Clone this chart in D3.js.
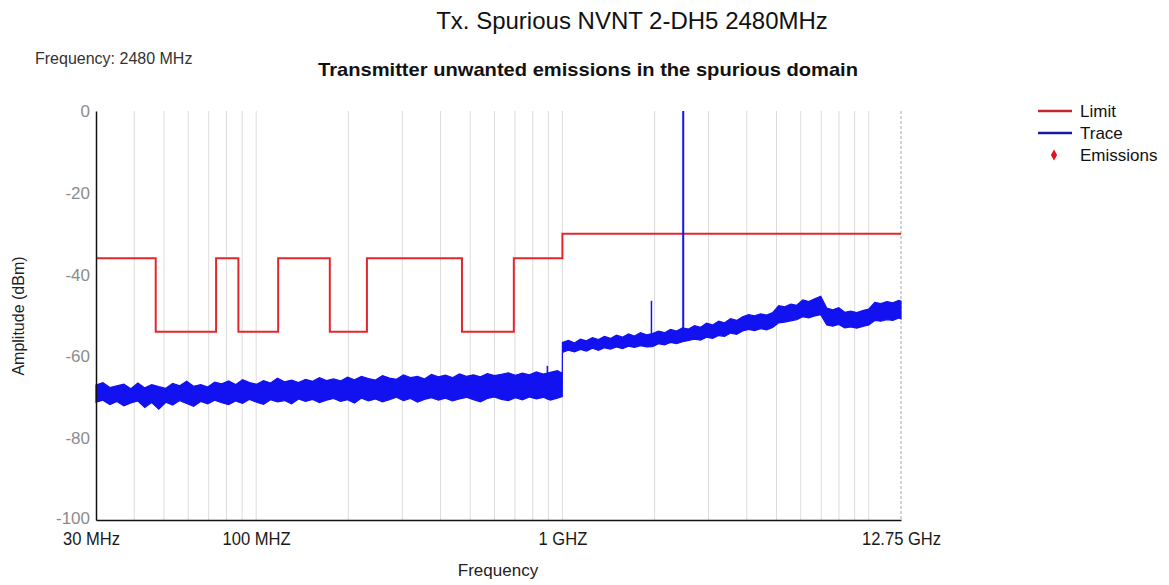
<!DOCTYPE html>
<html>
<head>
<meta charset="utf-8">
<script src="https://cdn.jsdelivr.net/npm/d3@7"></script>
<style>
  html, body { margin: 0; padding: 0; background: #ffffff; }
  svg { display: block; font-family: "Liberation Sans", Arial, sans-serif; }
</style>
</head>
<body>
<svg id="chart" width="1169" height="585"></svg>
<script>
// ---------------- DATA ----------------
const chartTitle = "Tx. Spurious NVNT 2-DH5 2480MHz";
const plotTitle = "Transmitter unwanted emissions in the spurious domain";
const freqNote = "Frequency: 2480 MHz";

const yTicks = [0, -20, -40, -60, -80, -100];
const xTickFreqs = [30, 100, 1000, 12750];
const xTickLabels = ["30 MHz", "100 MHZ", "1 GHZ", "12.75 GHz"];
const gridFreqs = [40, 50, 60, 70, 80, 90, 100, 200, 300, 400, 500, 600, 700, 800, 900,
                   1000, 2000, 3000, 4000, 5000, 6000, 7000, 8000, 9000, 10000];

// Limit (step function, level holds from each start frequency)
const limitFreq  = [30, 47, 74, 87.5, 118, 174, 230, 470, 694, 1000, 12750];
const limitLevel = [-36, -54, -36, -54, -36, -54, -36, -54, -36, -30, -30];

// Trace envelope (MHz, dBm)
const traceFreq = [
  30, 31.6, 33.3, 35.1, 37, 39, 41.1, 43.3, 45.6, 48.1,
  50.7, 53.4, 56.3, 59.3, 62.5, 65.9, 69.5, 73.2, 77.2, 81.3,
  85.7, 90.3, 95.2, 100.3, 105.7, 111.4, 117.4, 123.8, 130.5, 137.5,
  145, 152.8, 161, 169.7, 178.9, 188.6, 198.8, 209.5, 220.8, 232.7,
  245.3, 258.5, 272.5, 287.2, 302.7, 319, 336.3, 354.4, 373.6, 393.7,
  415, 437.4, 461, 485.9, 512.1, 539.8, 568.9, 599.6, 632, 666.1,
  702.1, 740, 780, 822, 866, 913, 963, 999,
  1000, 1046, 1094, 1145, 1198, 1253, 1311, 1372, 1435, 1501,
  1571, 1643, 1719, 1799, 1882, 1969, 2060, 2155, 2254, 2359,
  2468, 2582, 2701, 2826, 2956, 3093, 3236, 3385, 3542, 3705,
  3877, 4056, 4243, 4439, 4644, 4859, 5083, 5318, 5564, 5821,
  6090, 6371, 6666, 6973, 7296, 7633, 7985, 8354, 8740, 9144,
  9566, 10008, 10470, 10954, 11460, 11990, 12544, 12750
];
const traceMax = [
  -67.0, -66.4, -67.6, -67.2, -66.8, -67.9, -66.5, -67.7, -66.9, -67.4,
  -67.8, -66.6, -67.2, -66.1, -67.3, -66.9, -67.5, -66.3, -66.7, -66.0,
  -66.9, -65.7, -66.4, -66.8, -65.9, -66.5, -65.3, -66.2, -65.8, -66.4,
  -65.6, -66.1, -65.2, -65.9, -65.5, -66.0, -65.1, -65.7, -64.9, -65.4,
  -65.8, -64.7, -65.3, -65.6, -64.5, -65.2, -64.9, -65.5, -64.4, -65.0,
  -64.6, -65.2, -64.3, -64.9, -64.5, -65.0, -64.2, -64.7, -64.4, -64.0,
  -64.6, -64.1, -64.5, -63.8, -64.3, -63.9, -63.5, -64.1,
  -56.6, -56.1, -56.7, -55.8, -56.2, -55.4, -55.9, -55.1, -55.6, -54.8,
  -55.3, -54.5, -55.0, -54.2, -54.7, -54.4, -53.8, -54.2, -53.4, -53.8,
  -53.0, -53.3, -52.5, -52.9, -51.9, -52.3, -51.4, -51.8, -50.8, -51.2,
  -50.3, -49.8, -50.1, -49.6, -49.9, -49.3, -47.6, -47.9, -47.2, -47.5,
  -46.2, -46.6, -45.9, -45.3, -48.2, -48.6, -48.1, -49.2, -48.9, -49.3,
  -48.8, -48.4, -46.8, -47.1, -46.6, -46.9, -46.3, -46.5
];
const traceMin = [
  -71.2, -70.7, -71.8, -71.0, -72.1, -71.4, -70.9, -72.5, -71.3, -72.9,
  -71.2, -71.9, -70.8, -71.5, -72.2, -71.0, -71.6, -70.7, -71.3, -71.8,
  -70.9, -71.5, -70.5, -71.2, -71.7, -70.6, -71.1, -70.8, -71.6, -70.4,
  -71.0, -70.5, -71.3, -70.7, -70.3, -71.0, -70.6, -71.4, -70.2, -70.9,
  -70.4, -71.1, -70.6, -70.0, -70.8, -70.3, -71.2, -70.5, -70.1, -70.7,
  -70.2, -70.9, -70.4, -70.0, -70.6, -71.1, -70.3, -69.9, -70.5, -70.8,
  -70.1, -70.6, -69.9, -70.4, -70.0, -70.7, -70.2, -69.8,
  -59.0, -58.5, -58.9, -58.3, -58.7, -58.0, -58.5, -57.9, -58.2, -57.7,
  -58.1, -57.5, -57.8, -57.4, -57.7, -57.6, -56.9, -57.2, -56.6, -56.9,
  -56.4, -56.1, -55.8, -56.0, -55.3, -55.6, -54.9, -55.1, -54.3, -54.6,
  -53.8, -53.4, -53.7, -53.2, -53.5, -52.9, -51.8, -51.6, -51.3, -51.0,
  -50.3, -50.6, -50.1, -49.8, -52.3, -52.6, -52.2, -53.0, -52.8, -53.1,
  -52.7, -52.3, -51.2, -51.4, -51.0, -51.2, -50.6, -50.8
];

// Narrow spikes in the trace
const spikeFreq = [893, 1953, 2480];
const spikeTop  = [-62.3, -46.4, 0];
const spikeBase = [-70.5, -57.5, -56.4];

const legendNames = ["Limit", "Trace", "Emissions"];

// ---------------- DRAW ----------------
const svg = d3.select("#chart");
const x = d3.scaleLog().domain([30, 12750]).range([96, 901]);
const y = d3.scaleLinear().domain([-100, 0]).range([520, 111]);

const limitColor = "#e2282d";
const traceColor = "#1212f0";

// titles
svg.append("text").attr("x", 632).attr("y", 29).attr("text-anchor", "middle")
  .attr("font-size", 24).attr("fill", "#111").text(chartTitle);
svg.append("text").attr("x", 35).attr("y", 64)
  .attr("font-size", 16).attr("fill", "#333").text(freqNote);
svg.append("text").attr("x", 588).attr("y", 76).attr("text-anchor", "middle")
  .attr("font-size", 19).attr("font-weight", "bold").attr("fill", "#111")
  .attr("textLength", 540).attr("lengthAdjust", "spacingAndGlyphs").text(plotTitle);

// grid
svg.append("g").selectAll("line").data(gridFreqs).join("line")
  .attr("x1", d => x(d)).attr("x2", d => x(d))
  .attr("y1", y(0)).attr("y2", y(-100))
  .attr("stroke", "#dcdcdc").attr("stroke-width", 1);
svg.append("line")
  .attr("x1", x(12750)).attr("x2", x(12750)).attr("y1", y(0)).attr("y2", y(-100))
  .attr("stroke", "#a8a8a8").attr("stroke-width", 1).attr("stroke-dasharray", "3,2");

// limit
const limitPts = limitFreq.map((f, i) => [f, limitLevel[i]]);
svg.append("path").datum(limitPts)
  .attr("d", d3.line().x(d => x(d[0])).y(d => y(d[1])).curve(d3.curveStepAfter))
  .attr("fill", "none").attr("stroke", limitColor).attr("stroke-width", 2);

// trace envelope
const tracePts = traceFreq.map((f, i) => ({f, hi: traceMax[i], lo: traceMin[i]}));
svg.append("path").datum(tracePts)
  .attr("d", d3.area().x(d => x(d.f)).y0(d => y(d.lo)).y1(d => y(d.hi)))
  .attr("fill", traceColor).attr("stroke", traceColor).attr("stroke-width", 1.2)
  .attr("stroke-linejoin", "miter");

// spikes
svg.append("g").selectAll("line").data(spikeFreq).join("line")
  .attr("x1", d => x(d)).attr("x2", d => x(d))
  .attr("y1", (d, i) => y(spikeTop[i])).attr("y2", (d, i) => y(spikeBase[i]))
  .attr("stroke", traceColor).attr("stroke-width", (d, i) => i === 2 ? 2 : 1.5);

// axes
const yAxis = svg.append("g").attr("transform", `translate(${x(30)},0)`)
  .call(d3.axisLeft(y).tickValues(yTicks).tickSize(0).tickPadding(6).tickFormat(d => String(d)));
yAxis.select(".domain").attr("stroke", "#111").attr("stroke-width", 1.5);
yAxis.selectAll("text").attr("font-size", 17).attr("fill", "#8c8c8c")
  .attr("font-family", "Liberation Sans, Arial, sans-serif");
yAxis.selectAll(".tick text").filter(d => d === -100).attr("dy", "0.18em");

const xAxis = svg.append("g").attr("transform", `translate(0,${y(-100)})`)
  .call(d3.axisBottom(x).tickValues(xTickFreqs).tickSize(0).tickPadding(12)
    .tickFormat((d, i) => xTickLabels[i]));
xAxis.select(".domain").attr("stroke", "#111").attr("stroke-width", 1.5);
xAxis.selectAll("text").attr("font-size", 18).attr("fill", "#1a1a1a")
  .attr("font-family", "Liberation Sans, Arial, sans-serif");
xAxis.selectAll(".tick text").each(function (d, i) {
  const w = this.getComputedTextLength();
  d3.select(this).attr("textLength", w * 0.92).attr("lengthAdjust", "spacingAndGlyphs");
  if (i === 0) d3.select(this).attr("dx", -5);
});

// axis titles
svg.append("text").attr("x", 498).attr("y", 576).attr("text-anchor", "middle")
  .attr("font-size", 17).attr("fill", "#222").text("Frequency");
svg.append("text").attr("transform", "translate(24,316) rotate(-90)").attr("text-anchor", "middle")
  .attr("font-size", 16).attr("fill", "#222").text("Amplitude (dBm)");

// legend
const lg = svg.append("g");
const legY = [111, 133, 155];
lg.append("line").attr("x1", 1038).attr("x2", 1072).attr("y1", legY[0]).attr("y2", legY[0])
  .attr("stroke", "#c8242a").attr("stroke-width", 2.5);
lg.append("line").attr("x1", 1038).attr("x2", 1072).attr("y1", legY[1]).attr("y2", legY[1])
  .attr("stroke", "#1a1aa6").attr("stroke-width", 2.5);
lg.append("path").attr("d", d3.symbol().type(d3.symbolDiamond).size(34)())
  .attr("transform", `translate(1054,${legY[2]})`).attr("fill", "#e0141e");
lg.selectAll("text").data(legendNames).join("text")
  .attr("x", 1080).attr("y", (d, i) => legY[i]).attr("dy", "0.35em")
  .attr("font-size", 17).attr("fill", "#111").text(d => d);
</script>
</body>
</html>
